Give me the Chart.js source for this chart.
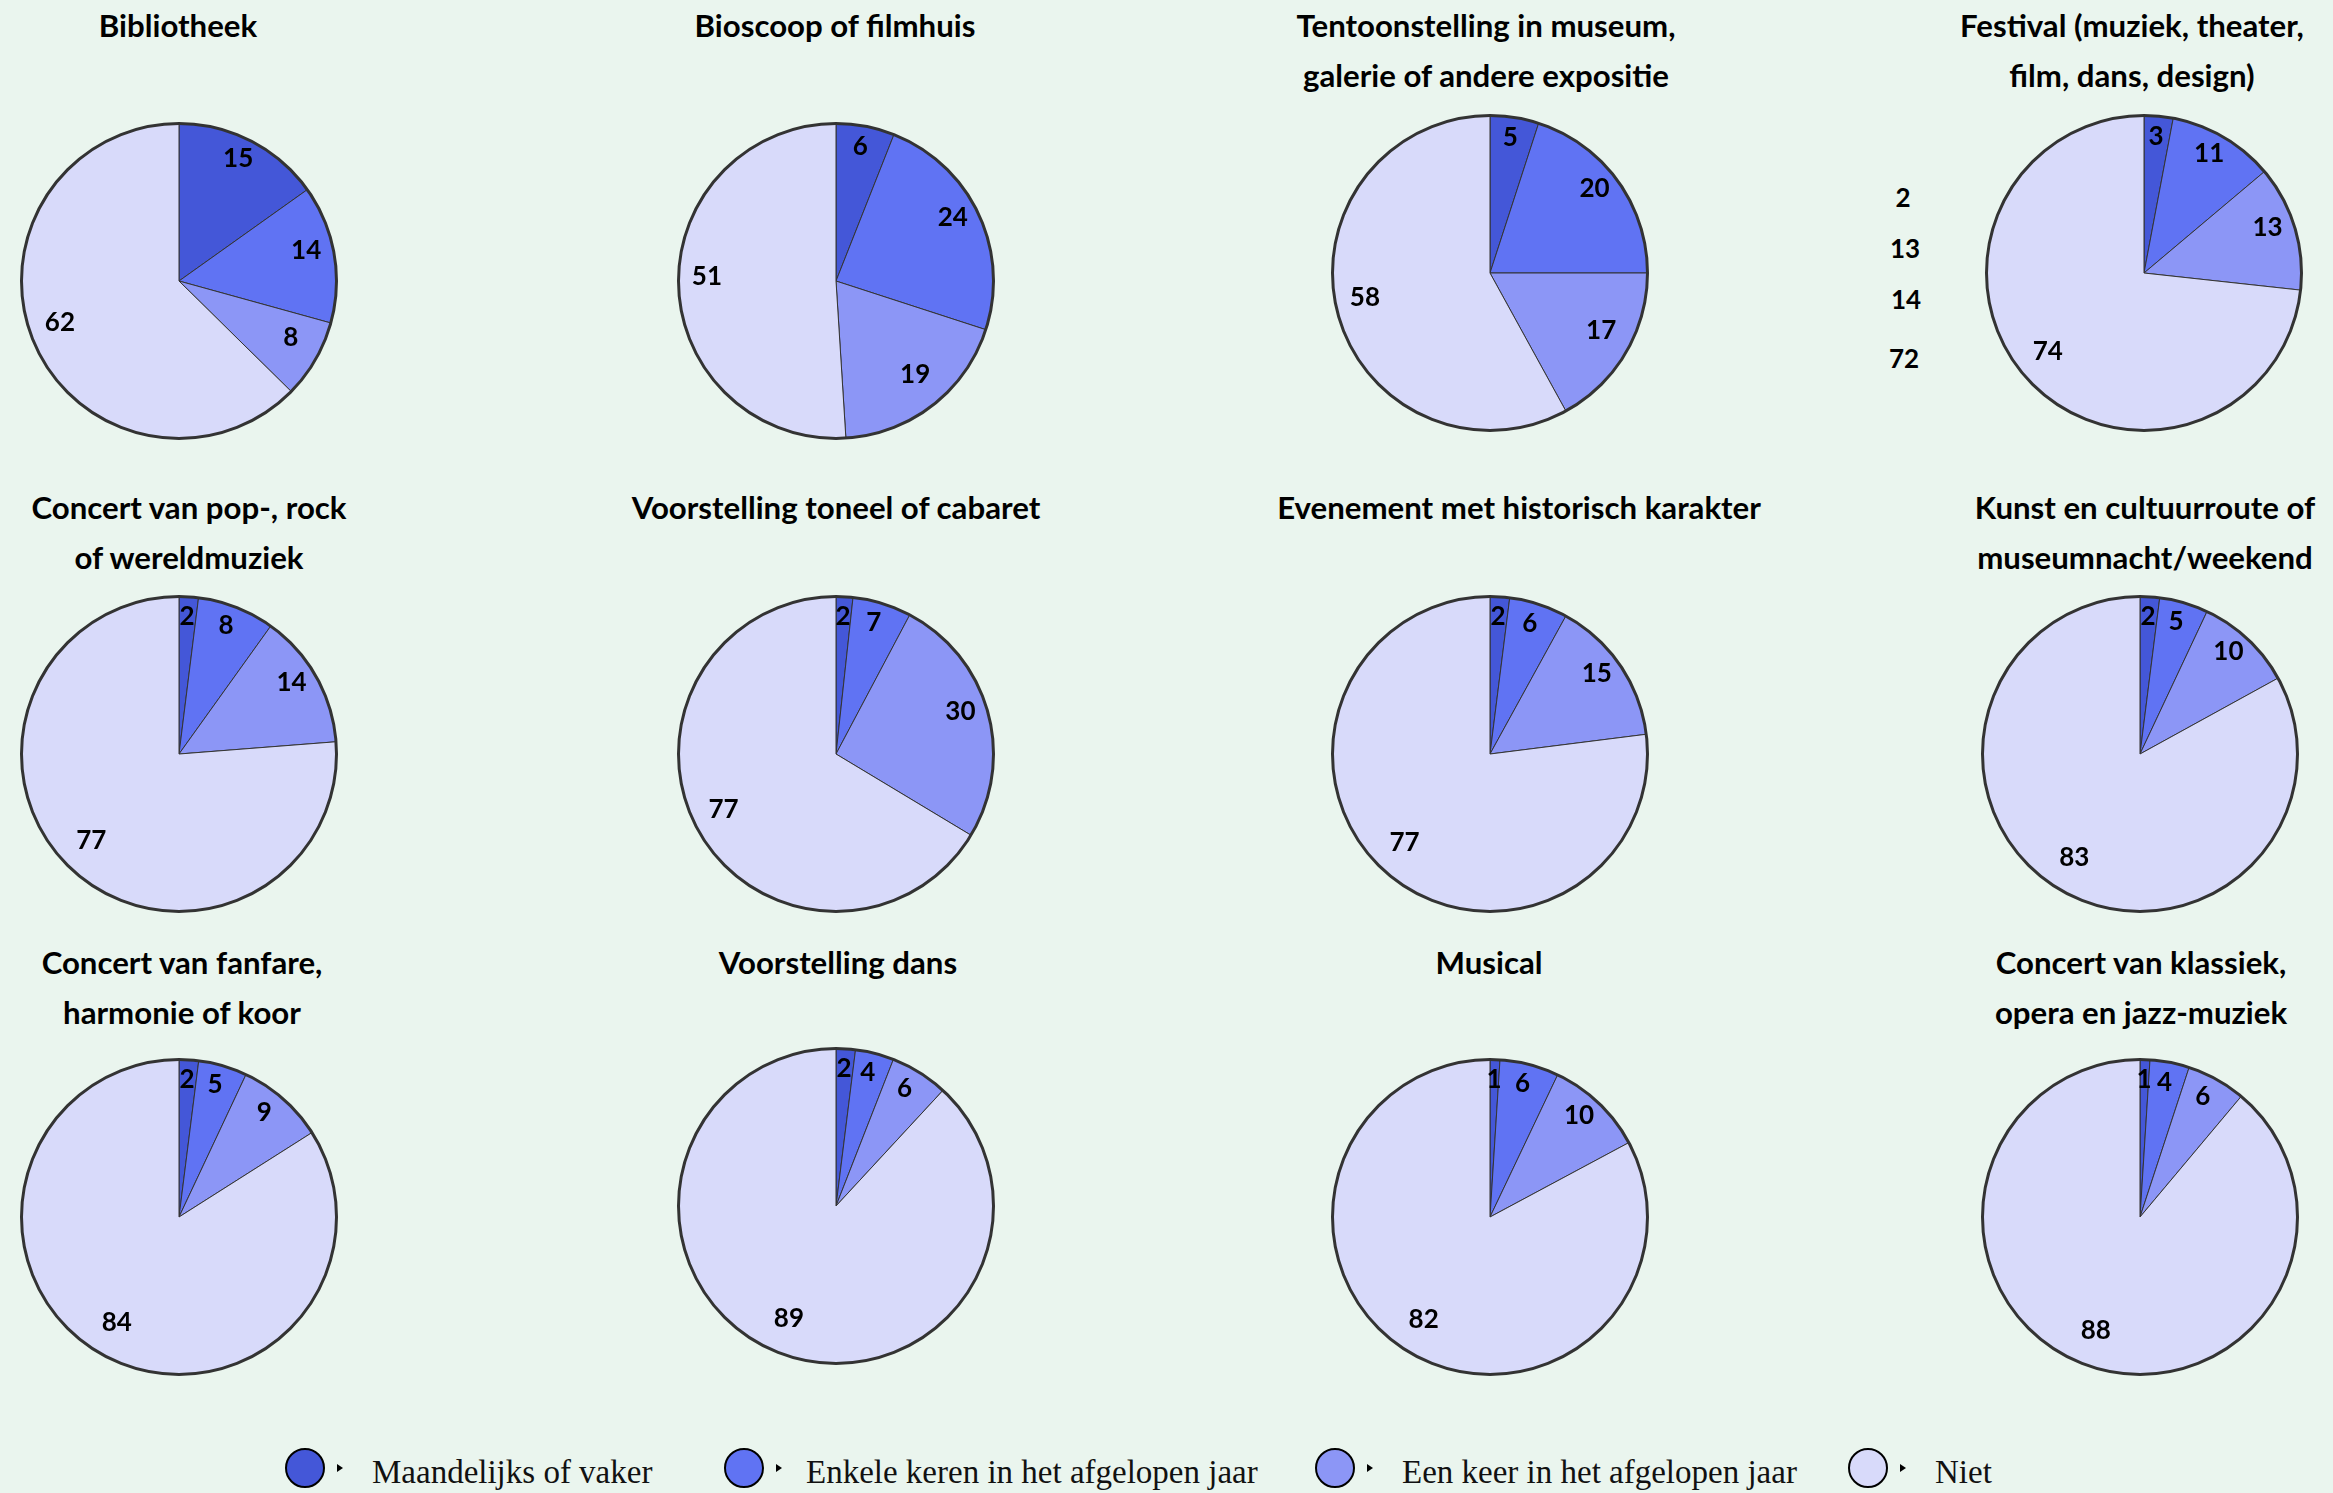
<!DOCTYPE html>
<html>
<head>
<meta charset="utf-8">
<script src="https://cdn.jsdelivr.net/npm/chart.js@4.4.1/dist/chart.umd.min.js"></script>
<style>
html,body{margin:0;padding:0;background:#eaf5ee;}
#stage{position:relative;width:2333px;height:1493px;overflow:hidden;background:#eaf5ee;}
.title{position:absolute;font-family:Lato,"Open Sans",sans-serif;font-weight:700;font-size:31.2px;line-height:50px;color:#000;white-space:nowrap;transform:translateX(-50%);text-align:center;}
canvas{position:absolute;}
.extra{position:absolute;font-family:Lato,sans-serif;font-weight:700;font-size:26px;color:#000;transform:translate(-50%,-50%);line-height:1;}
.marker{position:absolute;width:40px;height:40px;border:2px solid #000;border-radius:50%;box-sizing:border-box;}
.tri{position:absolute;width:0;height:0;border-left:6px solid #000;border-top:4px solid transparent;border-bottom:4px solid transparent;}
.legtext{position:absolute;font-family:"Liberation Serif","Times New Roman",serif;font-size:33px;line-height:40px;color:#111;white-space:nowrap;}
</style>
</head>
<body>
<div id="stage"></div>
<script>
// ---------- DATA ----------
const titles = [
  ["Bibliotheek"],
  ["Bioscoop of filmhuis"],
  ["Tentoonstelling in museum,", "galerie of andere expositie"],
  ["Festival (muziek, theater,", "film, dans, design)"],
  ["Concert van pop-, rock", "of wereldmuziek"],
  ["Voorstelling toneel of cabaret"],
  ["Evenement met historisch karakter"],
  ["Kunst en cultuurroute of", "museumnacht/weekend"],
  ["Concert van fanfare,", "harmonie of koor"],
  ["Voorstelling dans"],
  ["Musical"],
  ["Concert van klassiek,", "opera en jazz-muziek"]
];
const seriesNames = ["Maandelijks of vaker", "Enkele keren in het afgelopen jaar", "Een keer in het afgelopen jaar", "Niet"];
const maandelijks = [15, 6, 5, 3, 2, 2, 2, 2, 2, 2, 1, 1];
const enkeleKeren = [14, 24, 20, 11, 8, 7, 6, 5, 5, 4, 6, 4];
const eenKeer     = [8, 19, 17, 13, 14, 30, 15, 10, 9, 6, 10, 6];
const niet        = [62, 51, 58, 74, 77, 77, 77, 83, 84, 89, 82, 88];
const extraLabels = ["2", "13", "14", "72"];

// ---------- STYLE / LAYOUT ----------
const colors = ["#4457d8", "#6073f3", "#8c96f6", "#d8dafa"];
const pieCenters = [
  [178.5, 280.5], [835.5, 280.5], [1489.5, 272.5], [2144, 272.5],
  [178.5, 754.3], [835.7, 754.3], [1489.5, 754.3], [2140, 754.3],
  [178.5, 1216.5], [836, 1206], [1489.5, 1216.5], [2139.5, 1216.5]
];
const titleCenters = [178, 835, 1486, 2132, 189, 836, 1519, 2145, 182, 838, 1489, 2141];
const titleTops = [0, 482, 937];
const extraPos = [[1903, 197], [1905, 248], [1906, 299], [1904, 358]];
const legendMarkerX = [305, 744, 1335, 1868];
const legendTextX = [372, 806, 1402, 1935];

const stage = document.getElementById('stage');
const CANVAS = 340;

const outlineAndLabels = {
  id: 'outlineAndLabels',
  afterDatasetsDraw(chart) {
    const ctx = chart.ctx;
    const meta = chart.getDatasetMeta(0);
    const ds = chart.data.datasets[0];
    if (!meta.data.length) return;
    const a0 = meta.data[0];
    const R = a0.outerRadius;
    ctx.save();
    ctx.beginPath();
    ctx.arc(a0.x, a0.y, R, 0, Math.PI * 2);
    ctx.lineWidth = 3;
    ctx.strokeStyle = '#333333';
    ctx.stroke();
    ctx.font = '700 26px Lato, sans-serif';
    ctx.fillStyle = '#000';
    ctx.textAlign = 'center';
    ctx.textBaseline = 'middle';
    meta.data.forEach((arc, i) => {
      const mid = (arc.startAngle + arc.endAngle) / 2;
      const r = R * 0.82;
      ctx.fillText(String(ds.data[i]), arc.x + Math.cos(mid) * r, arc.y + Math.sin(mid) * r - 8);
    });
    ctx.restore();
  }
};

titles.forEach((lines, i) => {
  const row = Math.floor(i / 4);
  const t = document.createElement('div');
  t.className = 'title';
  t.style.left = titleCenters[i] + 'px';
  t.style.top = titleTops[row] + 'px';
  t.innerHTML = lines.join('<br>');
  stage.appendChild(t);

  const c = document.createElement('canvas');
  c.width = CANVAS; c.height = CANVAS;
  c.style.width = CANVAS + 'px'; c.style.height = CANVAS + 'px';
  c.style.left = (pieCenters[i][0] - CANVAS / 2) + 'px';
  c.style.top = (pieCenters[i][1] - CANVAS / 2) + 'px';
  stage.appendChild(c);

  new Chart(c.getContext('2d'), {
    type: 'pie',
    data: {
      labels: seriesNames,
      datasets: [{
        data: [maandelijks[i], enkeleKeren[i], eenKeer[i], niet[i]],
        backgroundColor: colors,
        borderColor: '#333333',
        borderWidth: 1
      }]
    },
    options: {
      responsive: false,
      devicePixelRatio: 1,
      animation: false,
      events: [],
      layout: { padding: 12 },
      plugins: { legend: { display: false }, tooltip: { enabled: false }, title: { display: false } }
    },
    plugins: [outlineAndLabels]
  });
});

extraLabels.forEach((txt, i) => {
  const s = document.createElement('div');
  s.className = 'extra';
  s.textContent = txt;
  s.style.left = extraPos[i][0] + 'px';
  s.style.top = extraPos[i][1] + 'px';
  stage.appendChild(s);
});

seriesNames.forEach((name, i) => {
  const m = document.createElement('div');
  m.className = 'marker';
  m.style.background = colors[i];
  m.style.left = (legendMarkerX[i] - 20) + 'px';
  m.style.top = (1468 - 20) + 'px';
  stage.appendChild(m);
  const tr = document.createElement('div');
  tr.className = 'tri';
  tr.style.left = (legendMarkerX[i] + 32) + 'px';
  tr.style.top = (1464) + 'px';
  stage.appendChild(tr);
  const tx = document.createElement('div');
  tx.className = 'legtext';
  tx.textContent = name;
  tx.style.left = legendTextX[i] + 'px';
  tx.style.top = '1452px';
  stage.appendChild(tx);
});
</script>
</body>
</html>
